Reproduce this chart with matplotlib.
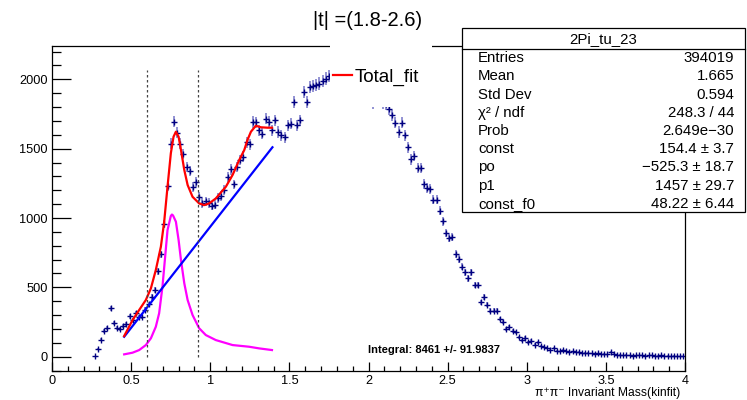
import numpy as np
import matplotlib
matplotlib.use('Agg')
import matplotlib.pyplot as plt
from matplotlib.patches import Rectangle
from matplotlib.lines import Line2D
from matplotlib.ticker import MultipleLocator

plt.rcParams['font.family'] = ['Liberation Sans', 'DejaVu Sans']

# ------------------ histogram (bin width 0.02, first bin centre 0.27)
first_centre = 0.27
bin_width = 0.02
counts = [
    5, 58, 122, 185, 208, 348, 243, 207, 198, 222,
    233, 292, 262, 315, 284, 289, 340, 378, 430, 478,
    615, 738, 958, 1232, 1537, 1694, 1615, 1537, 1462, 1370,
    1340, 1222, 1258, 1152, 1108, 1120, 1108, 1088, 1095, 1145,
    1158, 1200, 1295, 1350, 1242, 1368, 1420, 1442, 1547, 1530,
    1692, 1690, 1632, 1608, 1716, 1692, 1632, 1704, 1620, 1596,
    1583, 1668, 1680, 1836, 1668, 1704, 1908, 1836, 1944, 1949,
    1957, 1969, 1988, 2005, 2022, 2035, 2048, 2040, 2055, 2050,
    2030, 2010, 1990, 1960, 1935, 1900, 1880, 1855, 1830, 1850,
    1840, 1830, 1820, 1783, 1740, 1687, 1620, 1687, 1596, 1511,
    1422, 1446, 1360, 1360, 1247, 1215, 1210, 1133, 1133, 1054,
    975, 893, 854, 861, 741, 705, 650, 609, 565, 609,
    518, 518, 392, 433, 375, 332, 332, 332, 272, 248,
    200, 212, 183, 175, 139, 120, 135, 103, 115, 87,
    103, 79, 72, 63, 48, 63, 43, 38, 48, 38,
    36, 38, 31, 32, 28, 30, 26, 24, 22, 25,
    19, 20, 17, 33, 20, 15, 14, 12, 13, 10,
    8, 9, 11, 9, 8, 12, 9, 8, 7, 9,
    8, 7, 6, 7, 6, 5, 6,
]

# ------------------ fit curves
total_fit_x = [0.456, 0.509, 0.551, 0.593, 0.625, 0.656, 0.688, 0.709, 0.730, 0.751,
               0.768, 0.783, 0.800, 0.815, 0.836, 0.857, 0.888, 0.930, 0.962, 0.993,
               1.035, 1.099, 1.141, 1.183, 1.215, 1.235, 1.257, 1.288, 1.320, 1.362, 1.390]
total_fit_y = [149, 264, 337, 409, 493, 625, 793, 974, 1226, 1467,
               1586, 1622, 1586, 1490, 1346, 1238, 1153, 1105, 1093, 1105,
               1141, 1226, 1310, 1418, 1490, 1562, 1622, 1665, 1654, 1651, 1651]

bw_x = [0.456, 0.509, 0.551, 0.593, 0.625, 0.656, 0.677, 0.698, 0.715, 0.730,
        0.751, 0.758, 0.765, 0.783, 0.800, 0.815, 0.836, 0.857, 0.888, 0.930,
        0.972, 1.035, 1.141, 1.245, 1.309, 1.390]
bw_y = [17, 29, 48, 84, 133, 216, 313, 505, 721, 913,
        1015, 1025, 1018, 973, 841, 697, 529, 409, 301, 205,
        156, 120, 84, 72, 60, 48]

bkg_x = [0.456, 1.393]
bkg_y = [144, 1510]

cut_lines = [0.60, 0.92]
cut_top = 2065

stats_title = '2Pi_tu_23'
stats_names = ['Entries', 'Mean', 'Std Dev', 'χ² / ndf', 'Prob', 'const', 'po', 'p1', 'const_f0']
stats_values = ['394019', '1.665', '0.594', '248.3 / 44', '2.649e−30', '154.4 ± 3.7',
                '−525.3 ± 18.7', '1457 ± 29.7', '48.22 ± 6.44']

W, H = 747, 400
fig = plt.figure(figsize=(W / 100, H / 100), dpi=100)
ax = fig.add_axes([52 / W, 1 - 371 / H, (685 - 52) / W, (371 - 46) / H])

cnt = np.array(counts, dtype=float)
x = first_centre + bin_width * np.arange(len(cnt))

ax.errorbar(x, cnt, yerr=np.sqrt(cnt), fmt='none', ecolor='#8a8ad0', elinewidth=1.3)
ax.plot(x, cnt, '+', color='#000080', ms=4.5, mew=1.0, linestyle='none')

ax.plot(bw_x, bw_y, color='#ff00ff', lw=1.6)
ax.plot(bkg_x, bkg_y, color='#0000ff', lw=1.6)
ax.plot(total_fit_x, total_fit_y, color='#ff0000', lw=1.6)

for xc in cut_lines:
  ax.plot([xc, xc], [0, cut_top], color='#444444', lw=0.9, linestyle=(0, (2, 2)))

ax.set_xlim(0, 4)
ax.set_ylim(-103, 2240)
ax.xaxis.set_major_locator(MultipleLocator(0.5))
ax.xaxis.set_minor_locator(MultipleLocator(0.1))
ax.yaxis.set_major_locator(MultipleLocator(500))
ax.yaxis.set_minor_locator(MultipleLocator(100))
ax.xaxis.set_major_formatter(plt.FuncFormatter(lambda v, p: '%g' % v))
ax.yaxis.set_major_formatter(plt.FuncFormatter(lambda v, p: '%d' % v))

ax.tick_params(axis='y', which='major', direction='in', length=13.7, width=0.9, labelsize=9.2, pad=3)
ax.tick_params(axis='y', which='minor', direction='in', length=6.8, width=0.9)
ax.tick_params(axis='x', which='major', direction='in', length=6.8, width=0.9, labelsize=9.2, pad=3)
ax.tick_params(axis='x', which='minor', direction='in', length=3.5, width=0.9)
for s in ax.spines.values():
  s.set_linewidth(0.9)

ax.set_xlabel('π⁺π⁻ Invariant Mass(kinfit)', fontsize=8.7, loc='right')
ax.xaxis.set_label_coords(0.992, -0.05)

ax.text(368 / W, 1 - 350 / H, 'Integral: 8461 +/- 91.9837', transform=fig.transFigure,
        fontsize=8, fontweight='bold', ha='left', va='center')

# title
fig.text(368 / W, 1 - 21 / H, '|t| =(1.8-2.6)', fontsize=14.5, ha='center', va='center')

# legend (white box hides what lies beneath it)
fig.add_artist(Rectangle((330 / W, 1 - 107 / H), (432 - 330) / W, (107 - 44) / H,
                         transform=fig.transFigure, facecolor='white', edgecolor='none', zorder=1))
fig.legend(handles=[Line2D([], [], color='#ff0000', lw=1.6)], labels=['Total_fit'],
           loc='center left', bbox_to_anchor=(333 / W, 1 - 77 / H), frameon=False,
           fontsize=13.6, handlelength=1.0, handletextpad=0.15, borderpad=0, borderaxespad=0)

# stats box
fig.add_artist(Rectangle((462 / W, 1 - 212 / H), (745 - 462) / W, (212 - 28) / H,
                         transform=fig.transFigure, facecolor='white', edgecolor='black',
                         lw=0.9, zorder=1))
fig.add_artist(Line2D([462 / W, 745 / W], [1 - 49 / H, 1 - 49 / H], color='black', lw=0.9,
                      transform=fig.transFigure, zorder=2))
fig.text(603 / W, 1 - 39 / H, stats_title, fontsize=10.8, ha='center', va='center')
for i in range(len(stats_names)):
  yy = 1 - (58.3 + 18.2 * i) / H
  fig.text(478 / W, yy, stats_names[i], fontsize=10.8, ha='left', va='center')
  fig.text(734 / W, yy, stats_values[i], fontsize=10.8, ha='right', va='center')

fig.savefig('out.png', dpi=100)
